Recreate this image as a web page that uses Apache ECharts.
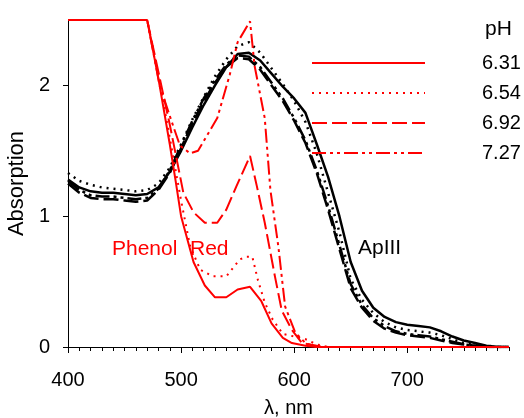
<!DOCTYPE html>
<html>
<head>
<meta charset="utf-8">
<script src="https://cdn.jsdelivr.net/npm/echarts@6/dist/echarts.min.js"></script>
<style>html,body{margin:0;padding:0;background:#fff}#c{width:524px;height:418px}</style>
</head>
<body>
<div id="c"></div>
<script>
// Phenol Red spectra (wavelength nm, absorption)
const phLabels = ['6.31', '6.54', '6.92', '7.27'];
const red631 = [[400,2.5],[470,2.5],[480,2.05],[490,1.55],[495,1.28],[500,1.0],[511,0.65],[521,0.47],[530,0.38],[540,0.38],[550,0.44],[561,0.46],[571,0.35],[580,0.18],[590,0.07],[598,0.03],[610,0.01],[620,0],[790,0]];
const red654 = [[400,2.5],[470,2.5],[480,2.08],[490,1.6],[500,1.12],[508,0.77],[517,0.59],[528,0.54],[540,0.54],[552,0.67],[558,0.69],[563,0.69],[568,0.51],[574,0.34],[581,0.21],[590,0.1],[600,0.08],[610,0.06],[620,0.02],[630,0],[790,0]];
const red692 = [[400,2.5],[470,2.5],[480,2.1],[490,1.7],[502,1.18],[511,1.03],[521,0.95],[532,0.95],[540,1.05],[549,1.23],[561,1.46],[567,1.23],[574,0.95],[583,0.54],[589,0.28],[598,0.13],[607,0.03],[620,0.01],[630,0],[790,0]];
const red727 = [[400,2.5],[470,2.5],[481,2.0],[493,1.69],[499,1.54],[508,1.48],[515,1.5],[532,1.75],[543,2.08],[550,2.33],[561,2.49],[565,2.15],[574,1.75],[579,1.2],[586,0.77],[592,0.31],[601,0.11],[610,0.03],[620,0],[790,0]];

// Arsenazo III (ApIII) spectra
const wl = [400,410,420,430,440,450,460,470,480,490,500,510,520,530,540,550,560,570,580,590,600,610,620,630,640,650,660,670,680,690,700,710,720,730,740,750,760,770,780,790];
const ap631 = [1.28,1.22,1.19,1.18,1.18,1.17,1.16,1.17,1.22,1.34,1.5,1.68,1.85,2.0,2.14,2.24,2.25,2.19,2.09,1.99,1.9,1.79,1.55,1.3,1.0,0.65,0.43,0.3,0.23,0.19,0.17,0.16,0.15,0.12,0.08,0.05,0.03,0.01,0,0];
const ap654 = [1.33,1.27,1.24,1.22,1.21,1.2,1.19,1.2,1.25,1.37,1.55,1.74,1.91,2.07,2.2,2.3,2.33,2.25,2.13,2.01,1.88,1.72,1.48,1.18,0.88,0.52,0.36,0.26,0.19,0.15,0.13,0.12,0.11,0.09,0.06,0.03,0.02,0.01,0,0];
const ap692 = [1.25,1.18,1.14,1.13,1.13,1.12,1.11,1.12,1.2,1.33,1.52,1.71,1.88,2.02,2.14,2.21,2.2,2.12,2.0,1.88,1.73,1.56,1.33,1.05,0.75,0.45,0.3,0.2,0.14,0.11,0.09,0.08,0.07,0.05,0.03,0.02,0.01,0,0,0];
const ap727 = [1.27,1.2,1.16,1.15,1.15,1.14,1.13,1.14,1.21,1.35,1.54,1.73,1.9,2.04,2.16,2.23,2.22,2.14,2.02,1.9,1.75,1.58,1.35,1.08,0.78,0.48,0.32,0.22,0.16,0.12,0.1,0.09,0.08,0.06,0.04,0.02,0.01,0,0,0];

const xMajor = [400, 500, 600, 700];
const yMajor = [0, 1, 2];

const minorTicks = [];
for (let v = 400; v <= 790; v += 10) minorTicks.push(v);

const FONT = 'Liberation Sans, Arial, sans-serif';
const dots = [2, 5];
const dashes = [15, 5];
const dashDotDot = [14, 4, 3, 4, 3, 4];
const styles = ['solid', dots, dashes, dashDotDot];

function zip(x, y) { return x.map((v, i) => [v, y[i]]); }

const apSets = [ap631, ap654, ap692, ap727];
const redSets = [red631, red654, red692, red727];

const series = [];
apSets.forEach((d, i) => {
  series.push({
    name: 'ApIII ' + phLabels[i], type: 'line', data: zip(wl, d), symbol: 'none',
    lineStyle: { color: '#000', width: 2.5, type: styles[i] }, itemStyle: { color: '#000' },
    z: 2, silent: true
  });
});
redSets.forEach((d, i) => {
  series.push({
    name: phLabels[i], type: 'line', data: d, symbol: 'none',
    lineStyle: { color: '#ff0000', width: 2, type: styles[i] }, itemStyle: { color: '#ff0000' },
    z: 3, silent: true
  });
});

const chart = echarts.init(document.getElementById('c'), null, { renderer: 'canvas' });
chart.setOption({
  animation: false,
  backgroundColor: '#fff',
  textStyle: { fontFamily: FONT },
  grid: { left: 68, right: 15, top: 20, bottom: 71, outerBoundsMode: 'none', containLabel: false },
  legend: {
    data: phLabels, orient: 'vertical', left: 311, top: 53, padding: 0,
    itemWidth: 113, itemHeight: 20, itemGap: 10,
    itemStyle: { opacity: 0 },
    textStyle: { fontSize: 20, color: '#000', fontFamily: FONT, padding: [0, 0, 0, 52] },
    selectedMode: false
  },
  xAxis: [{
    type: 'value', min: 400, max: 790, interval: 100,
    name: 'λ, nm', nameLocation: 'middle', nameGap: 51,
    nameTextStyle: { fontSize: 20, color: '#000', fontFamily: FONT },
    axisLine: { lineStyle: { color: '#000', width: 1 } },
    axisTick: { show: true, length: 6, customValues: xMajor, lineStyle: { color: '#000' } },
    axisLabel: { customValues: xMajor, fontSize: 20, color: '#000', margin: 23, fontFamily: FONT },
    splitLine: { show: false }
  }, {
    type: 'value', min: 400, max: 790, position: 'bottom', offset: 0,
    axisLine: { show: false },
    axisTick: { show: true, length: 4, customValues: minorTicks, lineStyle: { color: '#000' } },
    axisLabel: { show: false },
    splitLine: { show: false }
  }],
  yAxis: {
    type: 'value', min: 0, max: 2.5, interval: 1,
    name: 'Absorption', nameLocation: 'middle', nameGap: 32, nameRotate: 90,
    nameTextStyle: { fontSize: 22, color: '#000', fontFamily: FONT },
    axisLine: { show: true, lineStyle: { color: '#000', width: 1 } },
    axisTick: { show: true, length: 5, customValues: yMajor, lineStyle: { color: '#000' } },
    axisLabel: { customValues: yMajor, fontSize: 20, color: '#000', margin: 18, fontFamily: FONT },
    splitLine: { show: false }
  },
  graphic: [
    { type: 'text', left: 485, top: 19, style: { text: 'pH', fontSize: 21, fill: '#000', fontFamily: FONT } },
    { type: 'text', left: 112, top: 239, style: { text: 'Phenol', fontSize: 21, fill: '#ff0000', fontFamily: FONT } },
    { type: 'text', left: 190, top: 239, style: { text: 'Red', fontSize: 21, fill: '#ff0000', fontFamily: FONT } },
    { type: 'text', left: 358, top: 238, style: { text: 'ApIII', fontSize: 21, fill: '#000', fontFamily: FONT } }
  ],
  series: series
});
</script>
</body>
</html>
